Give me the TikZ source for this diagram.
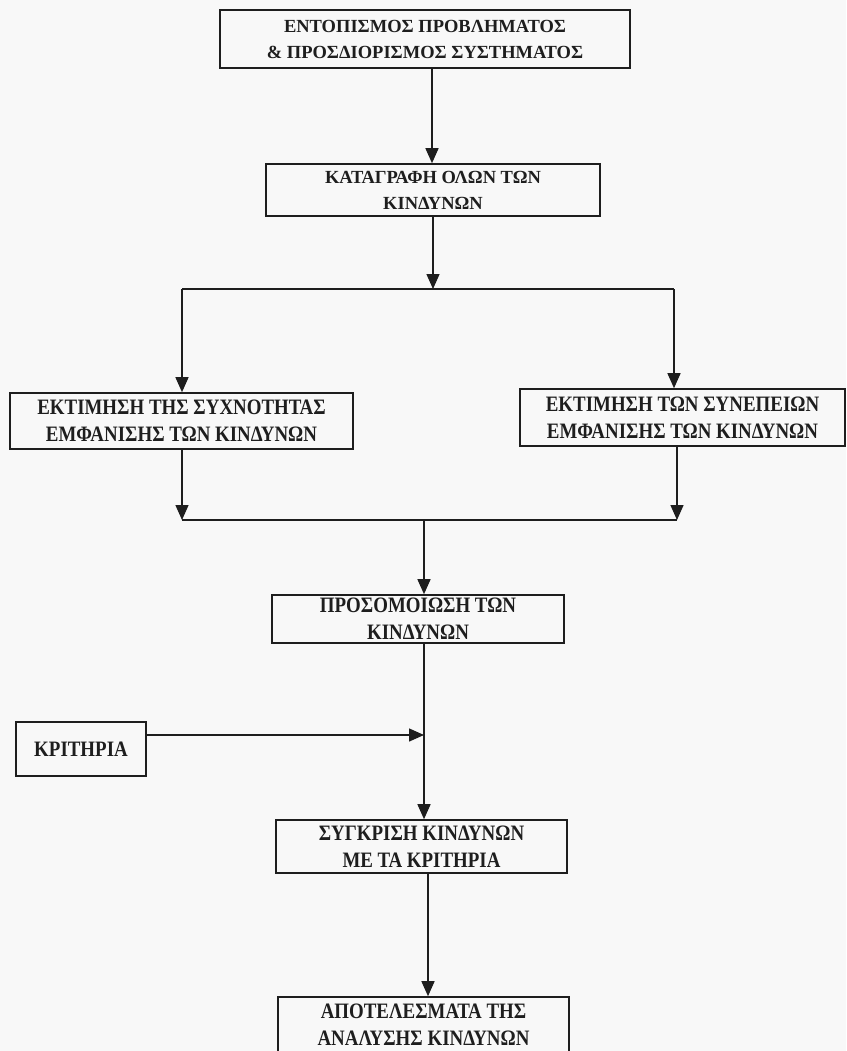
\documentclass[tikz,border=0pt]{standalone}
\usepackage{fontspec}
\setmainfont{Liberation Serif}
\newfontfamily\narrowserif[FakeStretch=0.86]{Liberation Serif}
\usetikzlibrary{arrows.meta}
\definecolor{ink}{HTML}{1E1E1E}
\definecolor{paper}{HTML}{F8F8F8}
\begin{document}
\begin{tikzpicture}[x=1pt,y=-1pt,
  box/.style={draw=ink, line width=1.6pt, rectangle, inner sep=0pt, align=center, text=ink},
  wide/.style={font=\bfseries\fontsize{18.5}{26}\selectfont},
  tall/.style={font=\narrowserif\bfseries\fontsize{22}{27}\selectfont},
  flow/.style={draw=ink, line width=1.4pt},
  arr/.style={flow, -{Triangle[length=15pt,width=13pt]}}]
% page
\fill[paper] (0,0) rectangle (846,1051);
\clip (0,0) rectangle (846,1051);

% boxes
\node[box, wide, minimum width=410pt, minimum height=58pt] (b1) at (425,39)
  {ΕΝΤΟΠΙΣΜΟΣ ΠΡΟΒΛΗΜΑΤΟΣ\\\& ΠΡΟΣΔΙΟΡΙΣΜΟΣ ΣΥΣΤΗΜΑΤΟΣ};
\node[box, wide, minimum width=334pt, minimum height=52pt] (b2) at (433,190)
  {ΚΑΤΑΓΡΑΦΗ ΟΛΩΝ ΤΩΝ\\ΚΙΝΔΥΝΩΝ};
\node[box, tall, minimum width=343pt, minimum height=56pt] (b3) at (181.5,421)
  {ΕΚΤΙΜΗΣΗ ΤΗΣ ΣΥΧΝΟΤΗΤΑΣ\\ΕΜΦΑΝΙΣΗΣ ΤΩΝ ΚΙΝΔΥΝΩΝ};
\node[box, tall, minimum width=325pt, minimum height=57pt] (b4) at (682.5,417.5)
  {ΕΚΤΙΜΗΣΗ ΤΩΝ ΣΥΝΕΠΕΙΩΝ\\ΕΜΦΑΝΙΣΗΣ ΤΩΝ ΚΙΝΔΥΝΩΝ};
\node[box, tall, minimum width=292pt, minimum height=48pt] (b5) at (418,619)
  {ΠΡΟΣΟΜΟΙΩΣΗ ΤΩΝ\\ΚΙΝΔΥΝΩΝ};
\node[box, tall, minimum width=130pt, minimum height=54pt] (kr) at (81,749)
  {ΚΡΙΤΗΡΙΑ};
\node[box, tall, minimum width=291pt, minimum height=53pt] (b6) at (421.5,846.5)
  {ΣΥΓΚΡΙΣΗ ΚΙΝΔΥΝΩΝ\\ΜΕ ΤΑ ΚΡΙΤΗΡΙΑ};
\node[box, tall, minimum width=291pt, minimum height=56pt] (b7) at (423.5,1025)
  {ΑΠΟΤΕΛΕΣΜΑΤΑ ΤΗΣ\\ΑΝΑΛΥΣΗΣ ΚΙΝΔΥΝΩΝ};

% junction points of the connectors
\coordinate (top) at (432,0);
\coordinate (split) at (433,289);
\coordinate (sl) at (182,289);
\coordinate (sr) at (674,289);
\coordinate (jl) at (182,520);
\coordinate (jr) at (677,520);
\coordinate (jm) at (424,520);
\coordinate (merge) at (424,735);
\coordinate (low) at (428,0);

% connectors
\draw[arr] (b1.south -| top) -- (b2.north -| top);
\draw[arr] (b2.south -| split) -- (split);
\draw[flow] (sl) -- (sr);
\draw[arr] (sl) -- (sl |- b3.north);
\draw[arr] (sr) -- (sr |- b4.north);
\draw[arr] (b3.south -| jl) -- (jl);
\draw[arr] (b4.south -| jr) -- (jr);
\draw[flow] (jl) -- (jr);
\draw[arr] (jm) -- (jm |- b5.north);
\draw[arr] (b5.south -| merge) -- (merge |- b6.north);
\draw[arr] (kr.east |- merge) -- (merge);
\draw[arr] (b6.south -| low) -- (b7.north -| low);
\end{tikzpicture}
\end{document}
